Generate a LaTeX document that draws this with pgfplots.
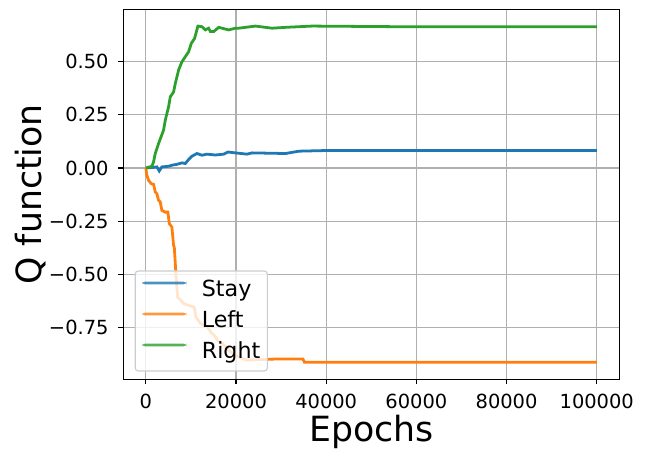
\documentclass[border=0pt]{standalone}
\usepackage{fontspec}
\setmainfont{DejaVu Sans}
\usepackage{pgfplots}
\pgfplotsset{compat=1.18}

\definecolor{tabblue}{HTML}{1F77B4}
\definecolor{taborange}{HTML}{FF7F0E}
\definecolor{tabgreen}{HTML}{2CA02C}
\definecolor{gridgray}{HTML}{B0B0B0}
\definecolor{leggray}{HTML}{CCCCCC}

\begin{document}
\begin{tikzpicture}
\useasboundingbox (-123.3pt,-78.7pt) rectangle (522.7pt,379.3pt);
\begin{axis}[
    at={(0pt,0pt)}, anchor=south west,
    scale only axis,
    width=496pt, height=370pt,
    xmin=-5000, xmax=105000,
    ymin=-0.995, ymax=0.747,
    scaled x ticks=false, scaled y ticks=false,
    xtick={0,20000,40000,60000,80000,100000},
    xticklabels={0,20000,40000,60000,80000,100000},
    ytick={-0.75,-0.5,-0.25,0,0.25,0.5},
    yticklabels={−0.75,−0.50,−0.25,0.00,0.25,0.50},
    xtick pos=lower, ytick pos=left,
    tick align=outside,
    major tick length=4.86pt,
    tick style={black, line width=1.11pt},
    axis line style={line width=1.11pt},
    grid=major,
    grid style={gridgray, line width=1.11pt},
    tick label style={font=\fontsize{19.44}{23}\selectfont},
    xticklabel style={anchor=north, inner sep=0pt, yshift=-9.7pt},
    yticklabel style={anchor=east, inner sep=0pt, xshift=-9.7pt},
    xlabel={Epochs},
    ylabel={Q function},
    label style={font=\fontsize{34.7}{40}\selectfont},
    xlabel style={at={(axis description cs:0.5,-0.1686)}, anchor=base},
    ylabel style={at={(axis description cs:-0.1645,0.5)}, anchor=base},
    legend cell align=left,
    legend image code/.code={\fill[#1, draw=none] (0pt,5.6pt) rectangle (44pt,8.4pt);},
    legend style={
        at={(axis description cs:0.023,0.021)}, anchor=south west,
        draw=leggray, line width=1.11pt, fill=white, fill opacity=0.8,
        draw opacity=1, text opacity=1, rounded corners=3pt,
        font=\fontsize{22.2}{26}\selectfont,
        nodes={inner sep=0pt, text height=18pt, text depth=5pt},
        row sep=8pt, column sep=15.6pt,
        inner xsep=7pt, inner ysep=7.5pt
    },
]

% Stay
\addplot[tabblue, line width=2.78pt] coordinates {
    (0,0)(1333,0.002)(2444,0.005)(2978,-0.014)(3555,0.005)(5044,0.008)
    (5777,0.013)(6888,0.017)(8000,0.024)(8755,0.021)(9488,0.040)
    (10221,0.055)(11332,0.068)(12444,0.060)(13554,0.065)(15421,0.061)
    (17265,0.065)(18221,0.075)(19865,0.071)(22442,0.065)(23553,0.071)
    (30975,0.068)(33929,0.079)(39863,0.082)(56150,0.082)(100000,0.082)
};

% Left
\addplot[taborange, line width=2.78pt] coordinates {
    (0,0)(222,-0.034)(600,-0.058)(1200,-0.074)(1711,-0.077)(2089,-0.113)
    (2444,-0.121)(2822,-0.152)(3200,-0.160)(3555,-0.200)(4311,-0.208)
    (4888,-0.208)(5200,-0.262)(5777,-0.278)(6155,-0.365)(6311,-0.373)
    (6666,-0.498)(7044,-0.608)(8533,-0.640)(9644,-0.648)(10754,-0.656)
    (11110,-0.703)(12221,-0.734)(13710,-0.750)(14443,-0.774)(15198,-0.789)
    (15932,-0.813)(17043,-0.828)(18532,-0.860)(19998,-0.884)(22220,-0.904)
    (22976,-0.904)(29642,-0.899)(34819,-0.899)(35197,-0.915)(100000,-0.915)
};

% Right
\addplot[tabgreen, line width=2.78pt] coordinates {
    (0,0)(1333,0.008)(1711,0.028)(2089,0.068)(2822,0.115)(3933,0.178)
    (4311,0.225)(5044,0.288)(5422,0.335)(6155,0.358)(6533,0.398)
    (7266,0.461)(8000,0.500)(8755,0.524)(9488,0.547)(10088,0.587)
    (10821,0.610)(11110,0.634)(11555,0.668)(12444,0.665)(13199,0.650)
    (13932,0.658)(14310,0.642)(15043,0.642)(16154,0.662)(18376,0.650)
    (19865,0.658)(20598,0.658)(24309,0.668)(27997,0.658)(30975,0.662)
    (36885,0.668)(56150,0.665)(100000,0.665)
};

\legend{Stay, Left, Right}
\end{axis}
\end{tikzpicture}
\end{document}
